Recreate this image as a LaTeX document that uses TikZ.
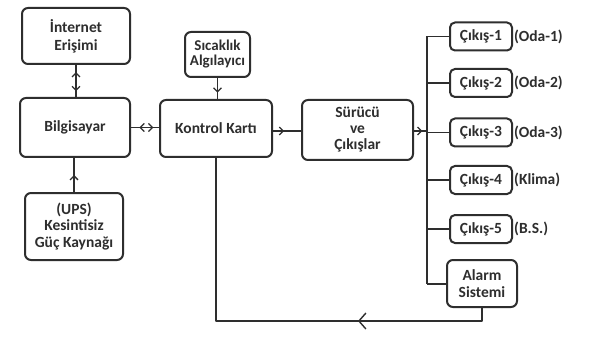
\documentclass[tikz,border=0pt]{standalone}
\usepackage{fontspec}
\setmainfont{Carlito}
\usetikzlibrary{arrows.meta,decorations.markings}
\definecolor{ink}{HTML}{2E2E2E}
\tikzset{
  mytip/.tip={Straight Barb[length=4pt,width=8pt,line width=1.3pt]},
  bigtip/.tip={Straight Barb[length=7pt,width=16pt,line width=1.4pt]},
  box/.style={draw=ink, line width=2pt, rounded corners=6pt, align=center, inner sep=1pt,
    font=\bfseries\fontsize{15.5}{16}\selectfont, text=ink},
  outbox/.style={box, minimum width=62pt, minimum height=28pt, rounded corners=5pt},
  conn/.style={draw=ink, line width=1.5pt},
  midarrow/.style={postaction={decorate}, decoration={markings, mark=at position #1 with {\arrow{mytip}}}},
  lbl/.style={anchor=west, inner sep=0pt, font=\bfseries\fontsize{15.5}{16}\selectfont, text=ink}
}
\begin{document}
\begin{tikzpicture}[x=1pt,y=-1pt]
\useasboundingbox[fill=white] (0,0) rectangle (590,337);
\node[box, minimum width=108pt, minimum height=56pt, font=\bfseries\fontsize{15.5}{18}\selectfont] (inet) at (76,36) {İnternet\\Erişimi};
\node[box, minimum width=110pt, minimum height=59pt] (pc) at (75,127.5) {Bilgisayar};
\node[box, minimum width=112pt, minimum height=57pt] (kk) at (216,128.5) {Kontrol Kartı};
\node[box, minimum width=65pt, minimum height=45pt, inner sep=0pt, font=\bfseries\fontsize{15}{15}\selectfont] (sa) at (217.5,54.5) {Sıcaklık\\Algılayıcı};
\node[box, minimum width=98pt, minimum height=67pt, font=\bfseries\fontsize{15.5}{16.5}\selectfont] (ups) at (74,226.5) {(UPS)\\Kesintisiz\\Güç Kaynağı};
\node[box, minimum width=111pt, minimum height=60pt, font=\bfseries\fontsize{15.5}{16}\selectfont] (sv) at (357.5,130) {Sürücü\\ve\\Çıkışlar};
\node[outbox] (c1) at (481,36.5) {Çıkış-1};
\node[outbox] (c2) at (481,83) {Çıkış-2};
\node[outbox] (c3) at (481,132.5) {Çıkış-3};
\node[outbox] (c4) at (481,180) {Çıkış-4};
\node[outbox] (c5) at (481,229) {Çıkış-5};
\node[box, minimum width=70pt, minimum height=47pt, font=\bfseries\fontsize{15.5}{17}\selectfont] (al) at (482,283.5) {Alarm\\Sistemi};
\node[lbl] (l1) at ([xshift=1pt]c1.east) {(Oda-1)};
\node[lbl] (l2) at ([xshift=1pt]c2.east) {(Oda-2)};
\node[lbl] (l3) at ([xshift=1pt]c3.east) {(Oda-3)};
\node[lbl] (l4) at ([xshift=1pt]c4.east) {(Klima)};
\node[lbl] (l5) at ([xshift=1pt]c5.east) {(B.S.)};
% bus
\coordinate (btop) at (427,36.5);
\coordinate (bbot) at (427,284);
\coordinate (bmid) at (427,131);
\draw[conn] (btop) -- (bbot);
\foreach \n in {c1,c2,c3,c4,c5} \draw[conn] (\n.west) -- (\n.west -| btop);
\draw[conn] (bbot) -- (bbot -| al.west);
% connectors
\draw[conn, postaction={decorate}, decoration={markings,
  mark=at position 0.22 with {\arrowreversed{mytip}}, mark=at position 0.82 with {\arrow{mytip}}}]
  (inet.south) -- (inet.south |- pc.north);
\draw[conn, postaction={decorate}, decoration={markings,
  mark=at position 0.3 with {\arrowreversed{mytip}}, mark=at position 0.8 with {\arrow{mytip}}}]
  (pc.east) -- (pc.east -| kk.west);
\draw[conn, midarrow=0.7] (sa.south) -- (sa.south |- kk.north);
\draw[conn, midarrow=0.5] (ups.north) -- (ups.north |- pc.south);
\draw[conn, midarrow=0.4] (kk.east |- bmid) -- (sv.west |- bmid);
\draw[conn, midarrow=0.65] (sv.east |- bmid) -- (bmid);
\coordinate (r1) at (al.south |- 0,321);
\coordinate (r2) at (kk.south |- 0,321);
\draw[conn, line join=round, postaction={decorate}, decoration={markings,
  mark=at position 0.31 with {\arrow{bigtip}}}]
  (al.south) -- (r1) -- (r2) -- (kk.south);
\end{tikzpicture}
\end{document}
